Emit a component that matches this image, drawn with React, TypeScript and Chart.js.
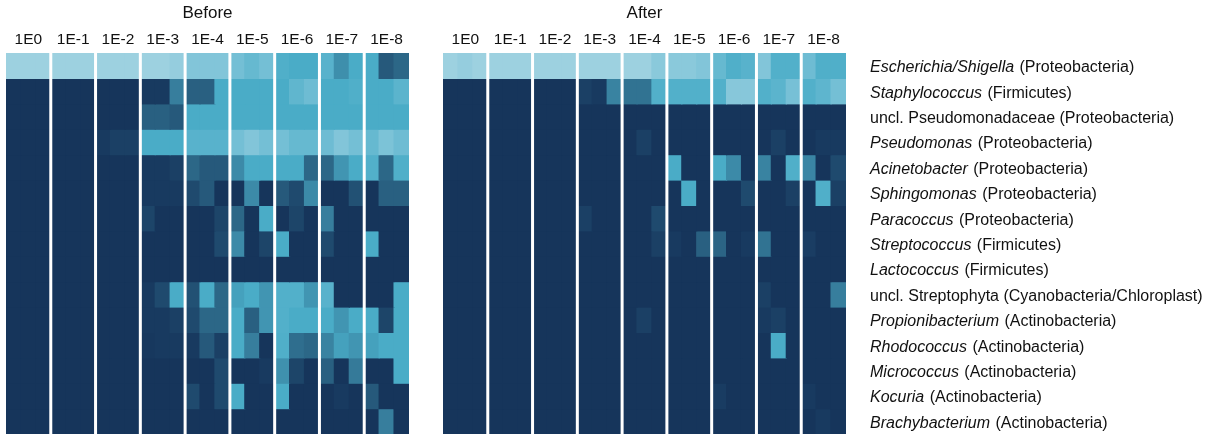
import React, { useEffect, useRef } from "react";
import { Chart, registerables } from "chart.js";

Chart.register(...registerables);

// ---- data -------------------------------------------------------------
const DILUTIONS = ["1E0", "1E-1", "1E-2", "1E-3", "1E-4", "1E-5", "1E-6", "1E-7", "1E-8"];
const REPLICATES = 3;

const TAXA = [
  "Escherichia/Shigella",
  "Staphylococcus",
  "uncl. Pseudomonadaceae",
  "Pseudomonas",
  "Acinetobacter",
  "Sphingomonas",
  "Paracoccus",
  "Streptococcus",
  "Lactococcus",
  "uncl. Streptophyta",
  "Propionibacterium",
  "Rhodococcus",
  "Micrococcus",
  "Kocuria",
  "Brachybacterium",
];
const PHYLA = [
  "Proteobacteria",
  "Firmicutes",
  "Proteobacteria",
  "Proteobacteria",
  "Proteobacteria",
  "Proteobacteria",
  "Proteobacteria",
  "Firmicutes",
  "Firmicutes",
  "Cyanobacteria/Chloroplast",
  "Actinobacteria",
  "Actinobacteria",
  "Actinobacteria",
  "Actinobacteria",
  "Actinobacteria",
];
const ITALIC = [true, true, false, true, true, true, true, true, true, false, true, true, true, true, true];

// colour level (0 = lowest abundance, 10 = highest), 27 columns = 9 dilutions x 3 replicates
const BEFORE: number[][] = [
  [10, 10, 10, 10, 10, 10, 10, 10, 10, 10, 10, 9.7, 9, 9, 9, 8.5, 8, 8.5, 7.2, 7, 7, 7.5, 5.7, 7, 7, 3, 4],
  [0, 0, 0, 0, 0, 0, 0, 0, 0, 0.5, 0.5, 5, 3.5, 3.5, 7, 7, 7, 7, 7, 7.8, 8.3, 7, 7, 7.2, 7, 7, 7.6],
  [0, 0, 0, 0, 0, 0, 0, 0, 0, 3.5, 3.5, 3, 7, 7, 7, 7, 7, 7, 7, 7, 7, 7, 7, 7, 7, 7, 7],
  [0, 0, 0, 0, 0, 0, 0.5, 1, 1, 7, 7, 7, 7.5, 7.5, 7.5, 8.5, 9, 8.5, 8.5, 8, 8, 8.3, 9, 8.5, 8, 8.8, 8.3],
  [0, 0, 0, 0, 0, 0, 0, 0, 0, 0.5, 0.5, 1, 4, 3, 3, 5.5, 7, 7, 7, 7, 4, 4, 6, 7, 7.3, 4, 7.2],
  [0, 0, 0, 0, 0, 0, 0, 0, 0, 0.5, 0.5, 0.5, 2, 3, 0, 0, 5.5, 0, 3, 2, 5.5, 0, 0, 2.5, 0, 3.5, 3.5],
  [0, 0, 0, 0, 0, 0, 0, 0, 0, 1.5, 0, 0, 0, 0, 1.5, 4, 0, 7, 0, 1.5, 0, 5, 0, 0, 0, 0, 0],
  [0, 0, 0, 0, 0, 0, 0, 0, 0, 0, 0, 0, 0, 0, 2, 5.5, 0, 1.5, 7, 0, 0, 2, 0, 0, 7, 0, 0],
  [0, 0, 0, 0, 0, 0, 0, 0, 0, 0, 0, 0, 0, 0, 0, 0, 0, 0, 0, 0, 0, 0, 0, 0, 0, 0, 0],
  [0, 0, 0, 0, 0, 0, 0, 0, 0, 0.5, 2, 7, 2.5, 7, 4, 6.5, 7, 6, 7.3, 7.3, 6, 7.5, 0, 0, 0, 0, 7],
  [0, 0, 0, 0, 0, 0, 0, 0, 0, 0.5, 0.5, 1, 2, 4, 4, 7, 3.5, 6, 7.3, 7, 7, 7, 6, 7, 7, 1.5, 7],
  [0, 0, 0, 0, 0, 0, 0, 0, 0, 0.3, 0.5, 0.5, 0.5, 3, 1, 7, 5, 0, 7.2, 4.3, 4, 5.2, 6.5, 6, 6.5, 7, 7],
  [0, 0, 0, 0, 0, 0, 0, 0, 0, 0, 0, 0, 0, 0, 2, 0, 0, 0.5, 5.8, 1.5, 0, 3.5, 0, 4.8, 0, 0, 7],
  [0, 0, 0, 0, 0, 0, 0, 0, 0, 0, 0, 0, 2, 0, 2, 7, 0, 0, 7, 0, 0, 0, 0.5, 0, 3, 0, 0],
  [0, 0, 0, 0, 0, 0, 0, 0, 0, 0, 0, 0, 0, 0, 0, 0, 0, 0, 0, 0, 0, 0, 0, 0, 0, 5, 0],
];

const AFTER: number[][] = [
  [10, 9.7, 10, 10, 10, 10, 10, 10, 10, 10, 10, 10, 10, 10, 9.3, 9.3, 9.3, 9, 8, 7.2, 7.5, 9, 7.3, 7.3, 8.3, 7.2, 7.2],
  [0, 0, 0, 0, 0, 0, 0, 0, 0, 1, 0.5, 5.2, 4.5, 4.5, 7.3, 7.3, 7.3, 7.3, 7.3, 9.2, 9.2, 7.3, 7.6, 8.6, 7.3, 7.7, 8.5],
  [0, 0, 0, 0, 0, 0, 0, 0, 0, 0, 0, 0, 0, 0, 0, 0, 0, 0, 0, 0, 0, 0, 0, 0, 0, 0, 0],
  [0, 0, 0, 0, 0, 0, 0, 0, 0, 0, 0, 0, 0, 1, 0, 0, 0, 0, 0, 0, 0, 0, 1, 0, 0, 0.5, 0.5],
  [0, 0, 0, 0, 0, 0, 0, 0, 0, 0, 0, 0, 0, 0, 0, 7, 0, 0, 7, 5.5, 0, 5.2, 0, 7.2, 5.3, 0, 2],
  [0, 0, 0, 0, 0, 0, 0, 0, 0, 0, 0, 0, 0, 0, 0, 0, 7, 0, 0, 0, 2, 0, 0, 1, 0, 7.2, 1],
  [0, 0, 0, 0, 0, 0, 0, 0, 0, 1, 0, 0, 0, 0, 2, 0, 0, 0, 0, 0, 0, 0, 0, 0, 0, 0, 0],
  [0, 0, 0, 0, 0, 0, 0, 0, 0, 0, 0, 0, 0, 0, 1, 0.5, 0, 3.5, 3.8, 0, 0.5, 4.5, 0, 0, 0.8, 0, 0],
  [0, 0, 0, 0, 0, 0, 0, 0, 0, 0, 0, 0, 0, 0, 0, 0, 0, 0, 0, 0, 0, 0, 0, 0, 0, 0, 0],
  [0, 0, 0, 0, 0, 0, 0, 0, 0, 0, 0, 0, 0, 0, 0, 0, 0, 0, 0, 0, 0, 1, 0, 0, 0, 0, 5],
  [0, 0, 0, 0, 0, 0, 0, 0, 0, 0, 0, 0, 0, 1, 0, 0, 0, 0, 0, 0, 0, 0.5, 1, 0, 0, 0, 0],
  [0, 0, 0, 0, 0, 0, 0, 0, 0, 0, 0, 0, 0, 0, 0, 0, 0, 0, 0, 0, 0, 0, 7, 0, 0, 0, 0],
  [0, 0, 0, 0, 0, 0, 0, 0, 0, 0, 0, 0, 0, 0, 0, 0, 0, 0, 0, 0, 0, 0, 0, 0, 0, 0, 0],
  [0, 0, 0, 0, 0, 0, 0, 0, 0, 0, 0, 0, 0, 0, 0, 0, 0, 0, 0.7, 0, 0, 0, 0, 0, 0.5, 0, 0],
  [0, 0, 0, 0, 0, 0, 0, 0, 0, 0, 0, 0, 0, 0, 0, 0, 0, 0, 0, 0, 0, 0, 0, 0, 0, 0.5, 0],
];

// ---- styling ----------------------------------------------------------
const FONT = '"Liberation Sans", Arial, Helvetica, sans-serif';
const STOPS: [number, [number, number, number]][] = [
  [0, [22, 53, 91]],
  [2, [31, 74, 110]],
  [4, [44, 103, 135]],
  [5.5, [60, 138, 168]],
  [7, [74, 172, 199]],
  [8.5, [116, 191, 213]],
  [10, [157, 209, 224]],
];

function colorFor(v: number): string {
  for (let i = 0; i < STOPS.length - 1; i++) {
    const [a, ca] = STOPS[i];
    const [b, cb] = STOPS[i + 1];
    if (v <= b) {
      const t = Math.max(0, (v - a) / (b - a));
      const c = ca.map((x, k) => Math.round(x + (cb[k] - x) * t));
      return `rgb(${c[0]},${c[1]},${c[2]})`;
    }
  }
  const c = STOPS[STOPS.length - 1][1];
  return `rgb(${c[0]},${c[1]},${c[2]})`;
}

const COLUMNS = DILUTIONS.flatMap((d) => Array.from({ length: REPLICATES }, (_, r) => `${d}_${r + 1}`));

function makeConfig(matrix: number[][], title: string, withRowLabels: boolean, padRight: number): any {
  const datasets = matrix.map((row, i) => ({
    label: TAXA[i],
    data: row.map(() => 1),
    backgroundColor: row.map(colorFor),
    borderWidth: 0,
    inflateAmount: 0.6,
    barPercentage: 1,
    categoryPercentage: 1,
  }));

  const labelsPlugin = {
    id: "heatLabels",
    afterDatasetsDraw(chart: any) {
      // white separators between dilution groups
      const { ctx, chartArea, scales } = chart;
      const xs = scales.x;
      ctx.save();
      ctx.fillStyle = "#ffffff";
      for (let g = 1; g < DILUTIONS.length; g++) {
        const a = xs.getPixelForValue(g * REPLICATES - 1);
        const b = xs.getPixelForValue(g * REPLICATES);
        const mid = (a + b) / 2;
        ctx.fillRect(mid - 1.5, chartArea.top - 1, 3, chartArea.bottom - chartArea.top + 2);
      }
      ctx.restore();
    },
    afterDraw(chart: any) {
      const { ctx, chartArea, scales } = chart;
      const xs = scales.x;
      const ys = scales.y;
      ctx.save();
      ctx.fillStyle = "#111111";
      ctx.textAlign = "center";
      ctx.textBaseline = "alphabetic";
      ctx.font = `17px ${FONT}`;
      ctx.fillText(title, (chartArea.left + chartArea.right) / 2, 18);
      ctx.font = `15.5px ${FONT}`;
      DILUTIONS.forEach((d, g) => {
        const px = xs.getPixelForValue(g * REPLICATES + 1);
        ctx.fillText(d, px, 44);
      });
      if (withRowLabels) {
        ctx.textAlign = "left";
        ctx.textBaseline = "alphabetic";
        const x0 = chartArea.right + 24;
        TAXA.forEach((t, i) => {
          const py = ys.getPixelForValue(i + 0.5) + 6.5;
          const x = x0;
          if (ITALIC[i]) {
            ctx.font = `italic 16px ${FONT}`;
            ctx.fillText(t, x, py);
            const w = ctx.measureText(t).width;
            ctx.font = `16px ${FONT}`;
            ctx.fillText(` (${PHYLA[i]})`, x + w + 1, py);
          } else {
            ctx.font = `16px ${FONT}`;
            ctx.fillText(`${t} (${PHYLA[i]})`, x, py);
          }
        });
      }
      ctx.restore();
    },
  };

  return {
    type: "bar",
    data: { labels: COLUMNS, datasets },
    options: {
      responsive: false,
      animation: false,
      layout: { padding: { left: 6, right: padRight, top: 53, bottom: 5 } },
      plugins: { legend: { display: false }, tooltip: { enabled: false }, title: { display: false } },
      scales: {
        x: { stacked: true, display: false, offset: true },
        y: { stacked: true, display: false, min: 0, max: TAXA.length, reverse: true },
      },
    },
    plugins: [labelsPlugin],
  };
}

function Heat({ matrix, title, withRowLabels, left, width, padRight }: any) {
  const ref = useRef<HTMLCanvasElement | null>(null);
  useEffect(() => {
    if (!ref.current) return;
    const chart = new Chart(ref.current, makeConfig(matrix, title, withRowLabels, padRight));
    return () => chart.destroy();
  }, [matrix, title, withRowLabels, padRight]);
  return (
    <canvas
      ref={ref}
      width={width}
      height={439}
      style={{ position: "absolute", left, top: 0, width, height: 439 }}
    />
  );
}

export default function App() {
  return (
    <div style={{ position: "absolute", left: 0, top: 0, width: 1210, height: 439, background: "#ffffff", overflow: "hidden" }}>
      <Heat matrix={BEFORE} title="Before" withRowLabels={false} left={0} width={415} padRight={6} />
      <Heat matrix={AFTER} title="After" withRowLabels={true} left={437} width={773} padRight={364} />
    </div>
  );
}
